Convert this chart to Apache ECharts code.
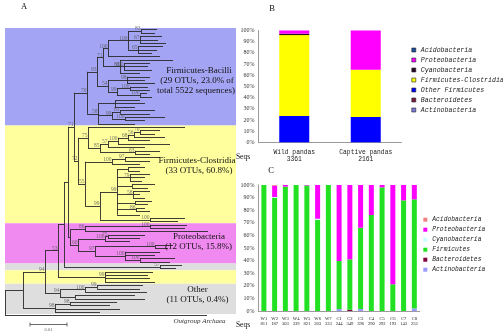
<!DOCTYPE html>
<html><head><meta charset="utf-8">
<script src="https://cdn.jsdelivr.net/npm/echarts@6/dist/echarts.min.js"></script>
<style>html,body{margin:0;padding:0;background:#fff}#c{width:503px;height:335px}</style>
</head><body><div id="c"></div>
<script>
// ---------- Panel B data (percent of sequences) ----------
const bCategories = ['Wild pandas', 'Captive pandas'];
const bSeqs = ['3361', '2161'];
const bActinobacteria = [0, 0];
const bBacteroidetes = [0, 0];
const bOtherFirmicutes = [23.6, 22.7];
const bClostridia = [72.3, 42.2];
const bCyanobacteria = [1.2, 0];
const bProteobacteria = [2.9, 35.1];
const bAcidobacteria = [0, 0];

// ---------- Panel C data (percent of sequences) ----------
const cCategories = ['W1','W2','W3','W4','W5','W6','W7','C1','C2','C3','C4','C5','C6','C7','C8'];
const cSeqs = ['811','187','303','339','821','203','333','244','349','396','290','292','193','143','252'];
const cActinobacteria = [0,0,0,0,0,0,0,1.6,0,1.6,0,0,0,0,2.0];
const cBacteroidetes  = [0,0,0,0,0,0,0,0,1.0,0,0,0,0,0,0];
const cFirmicutes     = [100,89.9,98.7,100,99.6,72.4,100,38.1,40.0,64.5,76.2,98.1,21.2,87.8,86.6];
const cCyanobacteria  = [0,0.6,0,0,0,0.8,0,0,0,0,0,0,0,0,0];
const cProteobacteria = [0,9.0,1.3,0,0.4,26.8,0,60.3,59.0,33.9,23.8,1.9,78.8,12.2,11.4];
const cAcidobacteria  = [0,0.5,0,0,0,0,0,0,0,0,0,0,0,0,0];

// ---------- Panel A tree: [nodeDepth, bootstrap, ...children]; leaf = tip depth ----------
const treeBacilli = [82,'70',
  [92,'93',
    [98,'71',
      [103,'100',
        [123,'100',[136,'83',152,150],[135,'67',157,153,161],[133,'65',158,152,147]],
        155],
      [115,'88',168,[119,'100',145,143,147],135]],
    [103,'54',[122,'98',145,140,150],[112,'99',[125,'100',143,145],[135,'100',142,147]]]],
  [93,'58',[110,'',135,140,130],[107,'99',[115,'81',150,145],[120,'100',160,140]],130]];
const treeClostridia = [73,'72',
  [83,'75',180,[95,'85',[103,'57',[113,'100',[123,'68',[129,'56',[135,'70',155,150],160],145],165],140],[130,'63',155,145]]],
  [80,'55',[107,'100',[120,'97',155,145],135],
    [95,'99',[112,'99',[123,'',140,135],[125,'79',145,140,137],[127,'',150,143],[128,'58',145,135,140],[130,'',147,143],[131,'86',140,145],135],[145,'100',180,173]]]];
const treeProteo = [65,'',
  [80,'86',[145,'100',182,180],203],
  [73,'60',[100,'100',[103,'75',140,135],125],[90,'97',[150,'100',168,163],[120,'100',155,150,[135,'100',170,165]]]]];
const treeOtherA = [155,'57',177,171];
const treeClostridiaB = [100,'99',148,143,145,150];
const treeOtherB = [55,'94',[80,'100',[92,'99',138,135],142],[70,'',130,140]];
const treeOtherC = [50,'98',[65,'98',112,105],115,95];
const tree = [0,'',
  [18,'',
    [40,'94',
      [53,'53',
        [59,'',
          [63,'',[69,'71',treeBacilli,treeClostridia],treeProteo],
          treeOtherA],
        treeClostridiaB],
      treeOtherB],
    treeOtherC],
  202];
// clade shading by leaf index ranges
const cladeRanges = [[0,28],[29,57],[58,69],[70,71],[72,75],[76,84]];
const cladeColors = ['#a4a4f4','#ffff9e','#f08af0','#dedede','#ffff9e','#dedede'];

// ---------- tree layout ----------
let leafCount = 0;
const segs = [], nodeLabels = [];
function layout(node, parentX) {
  if (typeof node === 'number') {
    const y = leafCount++;
    segs.push({coords: [[parentX, y], [node, y]]});
    return y;
  }
  const [x, label, ...kids] = node;
  const ys = kids.map(k => layout(k, x));
  const y = (ys[0] + ys[ys.length - 1]) / 2;
  segs.push({coords: [[x, ys[0]], [x, ys[ys.length - 1]]]});
  if (parentX !== null) segs.push({coords: [[parentX, y], [x, y]]});
  if (label) nodeLabels.push({value: [x, y], name: label});
  return y;
}
layout(tree, null);

const colB = {
  'Acidobacteria':'#1f4f9a','Proteobacteria':'#ff00ff','Cyanobacteria':'#2a0a2a',
  'Firmicutes-Clostridia':'#ffff00','Other Firmicutes':'#0000ff','Bacteroidetes':'#7a1a40','Actinobacteria':'#7a7ad8'
};
const colC = {
  'Acidobacteria':'#f28080','Proteobacteria':'#ff00ff','Cyanobacteria':'#ccffff',
  'Firmicutes':'#22e022','Bacteroidetes':'#800040','Actinobacteria':'#9999ff'
};
const bStack = [
  ['Actinobacteria', bActinobacteria], ['Bacteroidetes', bBacteroidetes], ['Other Firmicutes', bOtherFirmicutes],
  ['Firmicutes-Clostridia', bClostridia], ['Cyanobacteria', bCyanobacteria], ['Proteobacteria', bProteobacteria],
  ['Acidobacteria', bAcidobacteria]
];
const cStack = [
  ['Actinobacteria', cActinobacteria], ['Bacteroidetes', cBacteroidetes], ['Firmicutes', cFirmicutes],
  ['Cyanobacteria', cCyanobacteria], ['Proteobacteria', cProteobacteria], ['Acidobacteria', cAcidobacteria]
];

const serif = 'Liberation Serif';
function txt(x, y, s, size, extra) {
  return {type:'text', x:x, y:y, silent:true, z:100,
    style:Object.assign({text:s, fill:'#111', fontSize:size, fontFamily:serif, align:'center', verticalAlign:'middle'}, extra || {})};
}

const yAxisPct = (gi) => ({
  type:'value', gridIndex:gi, min:0, max:100, interval:10,
  axisLine:{show:true, lineStyle:{color:'#9a9a9a', width:1}}, axisTick:{show:false}, splitLine:{show:false},
  axisLabel:{formatter:'{value}%', fontFamily:serif, fontSize:6, color:'#333', margin:4}
});

const chart = echarts.init(document.getElementById('c'), null, {renderer:'canvas'});
chart.setOption({
  animation:false,
  backgroundColor:'#fff',
  grid:[
    {left:5, top:28, width:231, height:289.4},
    {left:258.5, top:30.5, width:143, height:111.8},
    {left:258.5, top:185, width:161.2, height:126}
  ],
  xAxis:[
    {type:'value', gridIndex:0, min:0, max:231, show:false},
    {type:'category', gridIndex:1, data:bCategories,
      axisLine:{lineStyle:{color:'#9a9a9a'}}, axisTick:{show:false},
      axisLabel:{interval:0, margin:7, fontFamily:'Liberation Mono', fontSize:6.3, lineHeight:6.7, color:'#222',
        formatter:(v, i) => v + '\n' + bSeqs[i]}},
    {type:'category', gridIndex:2, data:cCategories,
      axisLine:{lineStyle:{color:'#9a9a9a'}}, axisTick:{show:false},
      axisLabel:{interval:0, margin:5, fontFamily:serif, fontSize:4.6, lineHeight:5.3, color:'#222',
        formatter:(v, i) => v + '\n' + cSeqs[i]}}
  ],
  yAxis:[
    {type:'value', gridIndex:0, min:-0.5, max:85.5, inverse:true, show:false},
    yAxisPct(1), yAxisPct(2)
  ],
  legend:[
    {orient:'vertical', left:411.5, top:46.5, padding:0, itemWidth:4, itemHeight:4, itemGap:3, itemTextGap:2.5,
      icon:'rect', selectedMode:false,
      textStyle:{fontFamily:'Liberation Mono', fontStyle:'italic', fontSize:6.6, lineHeight:7, color:'#222'},
      data:['Acidobacteria','Proteobacteria','Cyanobacteria','Firmicutes-Clostridia','Other Firmicutes','Bacteroidetes','Actinobacteria']
        .map(n => ({name:n, itemStyle:{color:colB[n], borderColor:'#222', borderWidth:0.6}}))},
    {orient:'vertical', left:423.3, top:216.2, padding:0, itemWidth:4, itemHeight:4, itemGap:3, itemTextGap:3,
      icon:'rect', selectedMode:false,
      textStyle:{fontFamily:'Liberation Mono', fontStyle:'italic', fontSize:6.3, lineHeight:7, color:'#222'},
      data:['Acidobacteria','Proteobacteria','Cyanobacteria','Firmicutes','Bacteroidetes','Actinobacteria']
        .map(n => ({name:n, itemStyle:{color:colC[n], borderColor:colC[n], borderWidth:0}}))}
  ],
  series:[
    {type:'scatter', xAxisIndex:0, yAxisIndex:0, data:[], z:0, silent:true,
      markArea:{silent:true, label:{show:false},
        data:cladeRanges.map((r, i) => [
          {xAxis:0, yAxis:r[0] - 0.5, itemStyle:{color:cladeColors[i], opacity:1}},
          {xAxis:231, yAxis:r[1] + 0.5}])}},
    {type:'lines', coordinateSystem:'cartesian2d', xAxisIndex:0, yAxisIndex:0, silent:true, z:3,
      lineStyle:{color:'#2a2a2a', width:0.9, opacity:1}, data:segs},
    {type:'scatter', xAxisIndex:0, yAxisIndex:0, symbolSize:0, silent:true, z:4, data:nodeLabels,
      label:{show:true, position:'left', distance:0.5, offset:[0,-2.4], formatter:'{b}',
        fontFamily:serif, fontSize:5.5, color:'#555'}},
    ...bStack.map(([n, d]) => ({name:n, type:'bar', stack:'b', xAxisIndex:1, yAxisIndex:1, barWidth:30,
      data:d, itemStyle:{color:colB[n]}, silent:true})),
    ...cStack.map(([n, d]) => ({name:n, type:'bar', stack:'c', xAxisIndex:2, yAxisIndex:2, barWidth:5,
      data:d, itemStyle:{color:colC[n]}, silent:true}))
  ],
  graphic:[
    txt(24, 7, 'A', 8.5),
    txt(272, 9, 'B', 8.5),
    txt(271, 171, 'C', 8.5),
    txt(199, 71, 'Firmicutes-Bacilli', 9),
    txt(197, 81, '(29 OTUs, 23.0% of', 9),
    txt(196, 91, 'total 5522 sequences)', 9),
    txt(197, 161, 'Firmicutes-Clostridia', 9),
    txt(199, 171, '(33 OTUs, 60.8%)', 9),
    txt(199, 237, 'Proteobacteria', 9),
    txt(198.5, 247, '(12 OTUs, 15.8%)', 9),
    txt(197.5, 290, 'Other', 9),
    txt(197.5, 300, '(11 OTUs, 0.4%)', 9),
    txt(199.5, 321.5, 'Outgroup Archaea', 7, {fontStyle:'italic', fill:'#333'}),
    txt(243, 157, 'Seqs', 7.5),
    txt(243, 325, 'Seqs', 7.5),
    {type:'line', silent:true, shape:{x1:30, y1:324.5, x2:67, y2:324.5}, style:{stroke:'#444', lineWidth:0.8}},
    {type:'line', silent:true, shape:{x1:30, y1:322.5, x2:30, y2:326.5}, style:{stroke:'#444', lineWidth:0.8}},
    {type:'line', silent:true, shape:{x1:67, y1:322.5, x2:67, y2:326.5}, style:{stroke:'#444', lineWidth:0.8}},
    txt(48.5, 330, '0.01', 4.5, {fill:'#666'})
  ]
});
</script></body></html>
